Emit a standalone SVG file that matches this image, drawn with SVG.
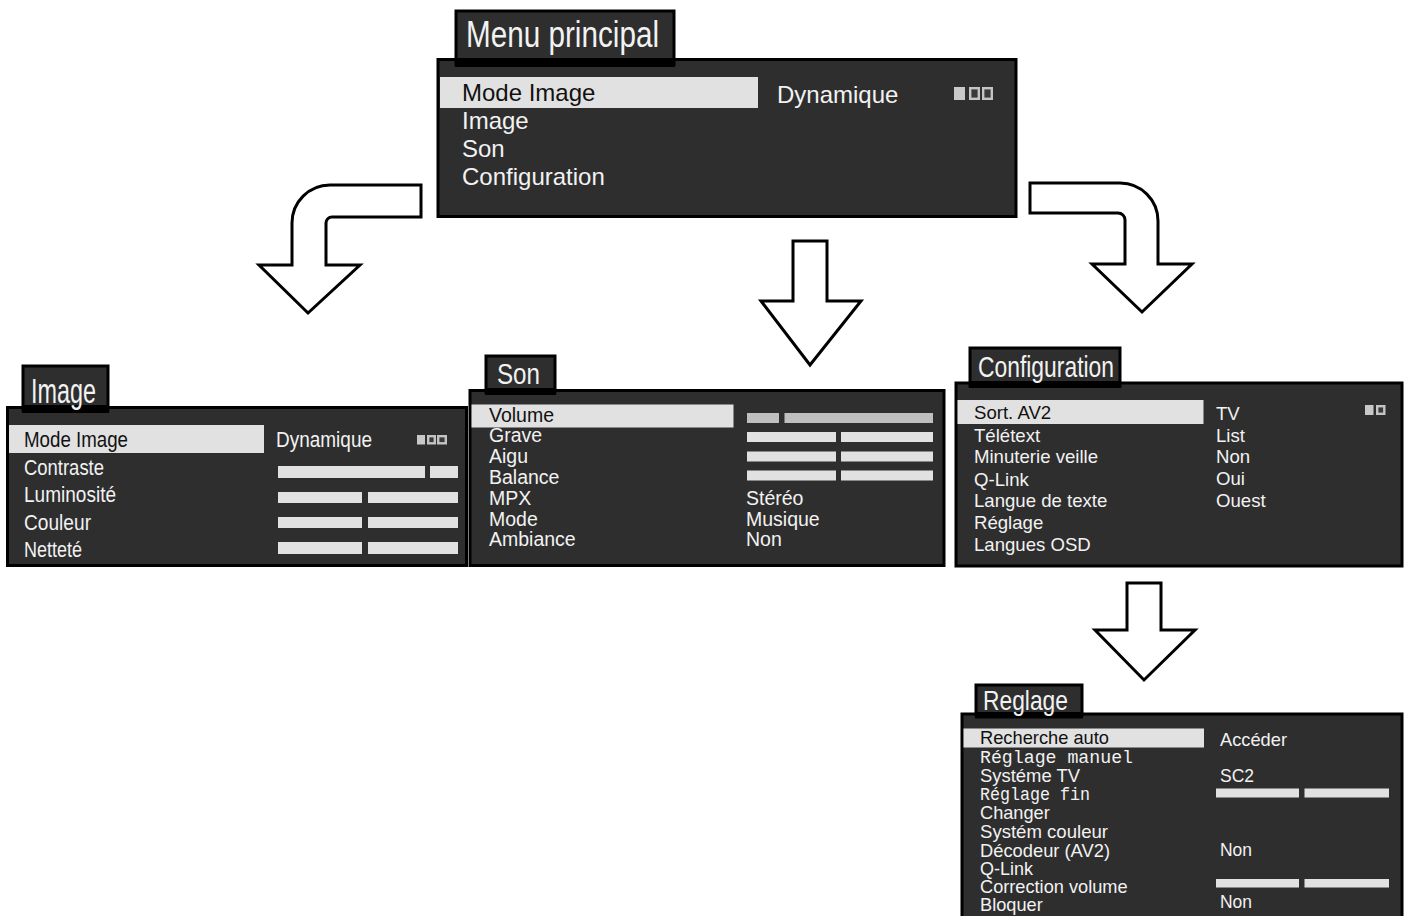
<svg xmlns="http://www.w3.org/2000/svg" width="1406" height="916" viewBox="0 0 1406 916">
<style>
.bg{fill:#ffffff}
.panel{fill:#2e2e2e;stroke:#000;stroke-width:3}
.tab{fill:#2e2e2e;stroke:#000;stroke-width:3}
.band{fill:#000}
.hl{fill:#e1e1e1}
.bar{fill:#e1e1e1}
.bar2{fill:#bfbfbf}
.sqf{fill:#c8c8c8}
.sqo{fill:#3a3a3a;stroke:#c4c4c4;stroke-width:2.4}
text{font-family:"Liberation Sans",Arial,sans-serif;fill:#f2f2f2}
.dk{fill:#111}
.mono{font-family:"Liberation Mono","Courier New",monospace}
.title{font-size:36px}
.arrow{fill:#fff;stroke:#000;stroke-width:3;stroke-linejoin:miter}
</style>
<rect class="bg" x="0" y="0" width="1406" height="916"/>

<g id="connectors">
  <path class="arrow" d="M421,185 L330,185 A38,38 0 0 0 292,223 L292,265 L259,265 L308,313 L360,265 L326,265 L326,223 A6,6 0 0 1 332,217 L421,217 Z"/>
  <path class="arrow" d="M793,241 L827,241 L827,301 L861,301 L810,365 L761,301 L793,301 Z"/>
  <path class="arrow" d="M1030,183 L1120,183 A38,38 0 0 1 1158,221 L1158,264 L1192,264 L1142,312 L1092,264 L1125,264 L1125,220 A7,7 0 0 0 1118,213 L1030,213 Z"/>
  <path class="arrow" d="M1127,583 L1161,583 L1161,630 L1195,630 L1144,680 L1095,630 L1127,630 Z"/>
</g>

<g id="main-menu">
  <rect class="panel" x="438" y="59.5" width="578" height="157"/>
  <rect class="tab" x="456" y="11" width="218" height="53"/>
  <rect class="band" x="455" y="58" width="220" height="9"/>
  <text x="466" y="47" class="title" textLength="193" lengthAdjust="spacingAndGlyphs">Menu principal</text>
  <rect class="hl" x="440" y="77" width="318" height="31"/>
  <text x="462" y="101" font-size="24" class="dk">Mode Image</text>
  <text x="462" y="129" font-size="24">Image</text>
  <text x="462" y="157" font-size="24">Son</text>
  <text x="462" y="185" font-size="24">Configuration</text>
  <text x="777" y="103" font-size="24">Dynamique</text>
  <rect class="sqf" x="954" y="87" width="11" height="13"/>
  <rect class="sqo" x="970.2" y="88.2" width="8.6" height="10.6"/>
  <rect class="sqo" x="983.2" y="88.2" width="8.6" height="10.6"/>
</g>

<g id="image-menu">
  <rect class="panel" x="7.5" y="407.5" width="459" height="158"/>
  <rect class="tab" x="23" y="366" width="85" height="44"/>
  <rect class="band" x="22" y="405" width="87" height="8"/>
  <text x="31" y="403" font-size="35" textLength="65" lengthAdjust="spacingAndGlyphs">Image</text>
  <rect class="hl" x="9" y="425" width="255" height="28"/>
  <text x="24" y="447" font-size="22" class="dk" textLength="104" lengthAdjust="spacingAndGlyphs">Mode Image</text>
  <text x="24" y="475" font-size="22" textLength="80" lengthAdjust="spacingAndGlyphs">Contraste</text>
  <text x="24" y="502" font-size="22" textLength="92" lengthAdjust="spacingAndGlyphs">Luminosité</text>
  <text x="24" y="530" font-size="22" textLength="67" lengthAdjust="spacingAndGlyphs">Couleur</text>
  <text x="24" y="557" font-size="22" textLength="58" lengthAdjust="spacingAndGlyphs">Netteté</text>
  <text x="276" y="447" font-size="22" textLength="96" lengthAdjust="spacingAndGlyphs">Dynamique</text>
  <rect class="sqf" x="417" y="435" width="8" height="9.5"/>
  <rect class="sqo" x="428.2" y="436.2" width="6.6" height="7.1"/>
  <rect class="sqo" x="438.2" y="436.2" width="7.6" height="7.1"/>
  <rect class="bar" x="278" y="466" width="147" height="12"/>
  <rect class="bar" x="430" y="466" width="28" height="12"/>
  <rect class="bar" x="278" y="492" width="84" height="11"/>
  <rect class="bar" x="368" y="492" width="90" height="11"/>
  <rect class="bar" x="278" y="517" width="84" height="11"/>
  <rect class="bar" x="368" y="517" width="90" height="11"/>
  <rect class="bar" x="278" y="542" width="84" height="12"/>
  <rect class="bar" x="368" y="542" width="90" height="12"/>
</g>

<g id="son-menu">
  <rect class="panel" x="470" y="390.5" width="474" height="175"/>
  <rect class="tab" x="486" y="356" width="69" height="36"/>
  <rect class="band" x="485" y="388" width="71" height="7"/>
  <text x="497" y="384" font-size="30" textLength="43" lengthAdjust="spacingAndGlyphs">Son</text>
  <rect class="hl" x="471.5" y="404.5" width="262" height="23"/>
  <text x="489" y="422" font-size="19.5" class="dk">Volume</text>
  <text x="489" y="442" font-size="19.5">Grave</text>
  <text x="489" y="463" font-size="19.5">Aigu</text>
  <text x="489" y="484" font-size="19.5">Balance</text>
  <text x="489" y="505" font-size="19.5">MPX</text>
  <text x="489" y="526" font-size="19.5">Mode</text>
  <text x="489" y="546" font-size="19.5">Ambiance</text>
  <rect class="bar2" x="747" y="413" width="32" height="10"/>
  <rect class="bar2" x="784.5" y="413" width="148.5" height="10"/>
  <rect class="bar" x="747" y="432" width="89" height="10"/>
  <rect class="bar" x="841" y="432" width="92" height="10"/>
  <rect class="bar" x="747" y="451.5" width="89" height="10"/>
  <rect class="bar" x="841" y="451.5" width="92" height="10"/>
  <rect class="bar" x="747" y="470.5" width="89" height="10"/>
  <rect class="bar" x="841" y="470.5" width="92" height="10"/>
  <text x="746" y="505" font-size="19.5">Stéréo</text>
  <text x="746" y="526" font-size="19.5">Musique</text>
  <text x="746" y="546" font-size="19.5">Non</text>
</g>

<g id="config-menu">
  <rect class="panel" x="956" y="383" width="446" height="183"/>
  <rect class="tab" x="970" y="348" width="150" height="38"/>
  <rect class="band" x="969" y="381" width="152" height="7"/>
  <text x="978" y="377" font-size="30" textLength="136" lengthAdjust="spacingAndGlyphs">Configuration</text>
  <rect class="hl" x="957.5" y="400" width="246" height="24"/>
  <text x="974" y="419" font-size="18.6" class="dk">Sort. AV2</text>
  <text x="974" y="441.5" font-size="18.6">Télétext</text>
  <text x="974" y="463" font-size="18.6">Minuterie veille</text>
  <text x="974" y="485.5" font-size="18.6">Q-Link</text>
  <text x="974" y="507" font-size="18.6">Langue de texte</text>
  <text x="974" y="529" font-size="18.6">Réglage</text>
  <text x="974" y="551" font-size="18.6">Langues OSD</text>
  <text x="1216" y="420" font-size="18.6">TV</text>
  <text x="1216" y="441.5" font-size="18.6">List</text>
  <text x="1216" y="463" font-size="18.6">Non</text>
  <text x="1216" y="485" font-size="18.6">Oui</text>
  <text x="1216" y="507" font-size="18.6">Ouest</text>
  <rect class="sqf" x="1365" y="405" width="8.5" height="10"/>
  <rect class="sqo" x="1377.2" y="406.2" width="7.1" height="7.6"/>
</g>

<g id="reglage-menu">
  <rect class="panel" x="962" y="714" width="440" height="205"/>
  <rect class="tab" x="976" y="685" width="106" height="30"/>
  <rect class="band" x="975" y="712" width="108" height="6.5"/>
  <text x="983" y="710" font-size="28" textLength="85" lengthAdjust="spacingAndGlyphs">Reglage</text>
  <rect class="hl" x="963.5" y="728.5" width="240.5" height="19"/>
  <text x="980" y="743.5" font-size="18.2" class="dk" textLength="129" lengthAdjust="spacingAndGlyphs">Recherche auto</text>
  <text x="980" y="762.5" font-size="18" class="mono" textLength="153" lengthAdjust="spacingAndGlyphs">Réglage manuel</text>
  <text x="980" y="781.5" font-size="18.2" textLength="100" lengthAdjust="spacingAndGlyphs">Systéme TV</text>
  <text x="980" y="800" font-size="18" class="mono" textLength="110" lengthAdjust="spacingAndGlyphs">Réglage fin</text>
  <text x="980" y="819" font-size="18.2">Changer</text>
  <text x="980" y="837.5" font-size="18.2" textLength="128" lengthAdjust="spacingAndGlyphs">Systém couleur</text>
  <text x="980" y="856.5" font-size="18.2" textLength="130" lengthAdjust="spacingAndGlyphs">Décodeur (AV2)</text>
  <text x="980" y="875" font-size="18.2" textLength="53" lengthAdjust="spacingAndGlyphs">Q-Link</text>
  <text x="980" y="893" font-size="18.2">Correction volume</text>
  <text x="980" y="910.5" font-size="18.2">Bloquer</text>
  <text x="1220" y="745.5" font-size="18.2" textLength="67" lengthAdjust="spacingAndGlyphs">Accéder</text>
  <text x="1220" y="782" font-size="18.2" textLength="34" lengthAdjust="spacingAndGlyphs">SC2</text>
  <rect class="bar" x="1216" y="788.5" width="83" height="9"/>
  <rect class="bar" x="1304.5" y="788.5" width="84.5" height="9"/>
  <text x="1220" y="855.5" font-size="18.2" textLength="32" lengthAdjust="spacingAndGlyphs">Non</text>
  <rect class="bar" x="1216" y="879" width="83" height="8.5"/>
  <rect class="bar" x="1304.5" y="879" width="84.5" height="8.5"/>
  <text x="1220" y="908" font-size="18.2" textLength="32" lengthAdjust="spacingAndGlyphs">Non</text>
</g>
</svg>
